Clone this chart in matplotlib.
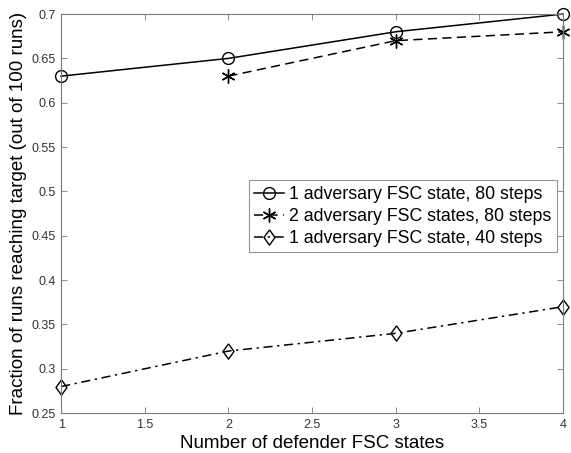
import matplotlib
matplotlib.use("Agg")
import matplotlib.pyplot as plt

plt.rcParams["font.family"] = ["Liberation Sans", "DejaVu Sans"]

X_ALL = [1, 2, 3, 4]
ADV1_80 = [0.63, 0.65, 0.68, 0.70]
X_ADV2 = [2, 3, 4]
ADV2_80 = [0.63, 0.67, 0.68]
ADV1_40 = [0.28, 0.32, 0.34, 0.37]

LABELS = [
    "1 adversary FSC state, 80 steps",
    "2 adversary FSC states, 80 steps",
    "1 adversary FSC state, 40 steps",
]

AXIS_GREY = "#7a7a7a"
# MATLAB-style diamond (a bit taller than wide)
DIAMOND = [(0, 1), (0.72, 0), (0, -1), (-0.72, 0), (0, 1)]

fig = plt.figure(figsize=(5.71, 4.53), dpi=100)
ax = fig.add_axes([0.107, 0.088, 0.879, 0.881])

ax.plot(X_ALL, ADV1_80, "-", color="black", lw=1.1, marker="o", ms=8.5,
        mfc="none", mec="black", mew=1.0, label=LABELS[0], clip_on=False)
ax.plot(X_ADV2, ADV2_80, "--", color="black", lw=1.1, marker=(6, 2, 0), ms=10,
        mec="black", mew=1.0, label=LABELS[1], dashes=(6, 3.5), clip_on=False)
ax.plot(X_ALL, ADV1_40, "-.", color="black", lw=1.1, marker=DIAMOND, ms=11,
        mfc="none", mec="black", mew=1.0, label=LABELS[2],
        dashes=(6, 3, 1.5, 3), clip_on=False)

ax.set_xlim(1, 4)
ax.set_ylim(0.25, 0.7)
ax.set_xticks([1, 1.5, 2, 2.5, 3, 3.5, 4])
ax.set_xticklabels(["1", "1.5", "2", "2.5", "3", "3.5", "4"])
ax.set_yticks([0.25, 0.3, 0.35, 0.4, 0.45, 0.5, 0.55, 0.6, 0.65, 0.7])
ax.set_yticklabels(["0.25", "0.3", "0.35", "0.4", "0.45", "0.5", "0.55",
                    "0.6", "0.65", "0.7"])
ax.tick_params(direction="in", top=True, right=True, length=4,
               width=0.6, colors=AXIS_GREY, labelsize=9, labelcolor="#333333",
               pad=4)
for s in ax.spines.values():
    s.set_color(AXIS_GREY)
    s.set_linewidth(0.8)

ax.set_xlabel("Number of defender FSC states", fontsize=13.5, labelpad=3)
ax.set_ylabel("Fraction of runs reaching target (out of 100 runs)", fontsize=13.5,
              labelpad=3)

leg = ax.legend(loc="upper right", bbox_to_anchor=(0.988, 0.583), fontsize=12.8,
                frameon=True, fancybox=False, handlelength=1.7,
                handletextpad=0.3, borderpad=0.3, labelspacing=0.28,
                borderaxespad=0.0)
leg.get_frame().set_edgecolor(AXIS_GREY)
leg.get_frame().set_linewidth(0.8)

fig.savefig("out.png", dpi=100, facecolor="white")
